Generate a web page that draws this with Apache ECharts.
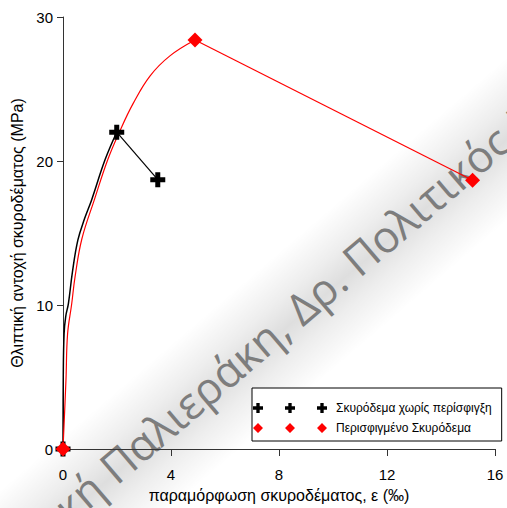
<!DOCTYPE html>
<html>
<head>
<meta charset="utf-8">
<script src="https://cdn.jsdelivr.net/npm/echarts@6/dist/echarts.min.js"></script>
<style>html,body{margin:0;padding:0;background:#fff}#c{width:507px;height:508px}</style>
</head>
<body>
<div id="c"></div>
<script>
const xTitle = 'παραμόρφωση σκυροδέματος, ε (‰)';
const yTitle = 'Θλιπτική αντοχή σκυροδέματος (MPa)';
const seriesNames = ['Σκυρόδεμα χωρίς περίσφιγξη', 'Περισφιγμένο Σκυρόδεμα'];
const watermarkLeft = 'Κυριακή ';
const watermarkRight = 'Παλιεράκη, Δρ. Πολιτικός Μηχανικός';
const xRange = [0, 16, 4];
const yRange = [0, 30, 10];

// unconfined concrete
const blackCurve = [[0,0],[0.01,5],[0.04,8],[0.1,9.2],[0.2,10.1],[0.35,12.3],[0.55,14.5],[0.8,16.0],[1.06,17.3],[1.56,20.1],[1.99,22.0]];
const blackTail = [[1.99,22.0],[3.51,18.7]];
const blackMarks = [[0,0],[1.99,22.0],[3.51,18.7]];
// confined concrete
const redCurve = [[0,0],[0.11,4.8],[0.17,8.0],[0.32,10.05],[0.45,12.0],[0.7,14.6],[1.16,17.3],[1.66,20.1],[2.11,22.1],[2.6,24.0],[3.22,25.9],[3.96,27.3],[4.89,28.4]];
const redTail = [[4.89,28.4],[15.17,18.66]];
const redMarks = [[0,0],[4.89,28.4],[15.17,18.66]];

const plusPath = 'path://M4,0H8V4H12V8H8V12H4V8H0V4H4Z';
const plus3 = 'path://M10,0H20V10H30V20H20V30H10V20H0V10H10Z M106,0H116V10H126V20H116V30H106V20H96V10H106Z M202,0H212V10H222V20H212V30H202V20H192V10H202Z';
const diam3 = 'path://M15,0L30,15L15,30L0,15Z M111,0L126,15L111,30L96,15Z M207,0L222,15L207,30L192,15Z';

const FONT = 'Liberation Sans';
const WM_ANGLE = 40.5 * Math.PI / 180;
const WM_X = 120, WM_Y = 490;
const wmStyle = {x: 0, y: 0, verticalAlign: 'bottom', font: '44px "Open Sans"', fill: '#7d7d7d'};
const chart = echarts.init(document.getElementById('c'), null, {renderer: 'svg'});
chart.setOption({
  animation: false,
  backgroundColor: '#fff',
  textStyle: {fontFamily: FONT},
  grid: {left: 63, right: 12, top: 17, bottom: 58, containLabel: false},
  xAxis: {
    type: 'value', min: xRange[0], max: xRange[1], interval: xRange[2],
    name: xTitle, nameLocation: 'middle', nameGap: 38,
    nameTextStyle: {fontSize: 16, color: '#000', fontFamily: FONT},
    axisLine: {show: true, lineStyle: {color: '#333', width: 1}},
    axisTick: {show: true, length: 7, lineStyle: {color: '#333'}},
    axisLabel: {fontSize: 15, color: '#000', margin: 18, fontFamily: FONT},
    splitLine: {show: false}
  },
  yAxis: {
    type: 'value', min: yRange[0], max: yRange[1], interval: yRange[2],
    name: yTitle, nameLocation: 'middle', nameGap: 38, nameRotate: 90,
    nameTextStyle: {fontSize: 16, color: '#000', fontFamily: FONT},
    axisLine: {show: true, lineStyle: {color: '#333', width: 1}},
    axisTick: {show: true, length: 6, lineStyle: {color: '#333'}},
    axisLabel: {fontSize: 15, color: '#000', margin: 10, fontFamily: FONT},
    splitLine: {show: false}
  },
  legend: {
    orient: 'vertical', left: 252, top: 388,
    padding: [13, 10, 6, 1], itemGap: 6,
    itemWidth: 74, itemHeight: 10,
    borderColor: '#000', borderWidth: 1, backgroundColor: '#fff',
    selectedMode: false,
    textStyle: {fontSize: 12, lineHeight: 14, color: '#000', fontFamily: FONT, padding: [0,0,0,4]},
    data: [{name: seriesNames[0], icon: plus3}, {name: seriesNames[1], icon: diam3}]
  },
  graphic: [
    {type: 'rect', x: WM_X, y: WM_Y, rotation: WM_ANGLE, z: -101, silent: true,
     shape: {x: -250, y: -78, width: 1000, height: 125},
     style: {fill: new echarts.graphic.LinearGradient(0, 0, 0, 1, [
       {offset: 0, color: 'rgba(0,0,0,0)'},
       {offset: 0.3, color: 'rgba(0,0,0,0.07)'},
       {offset: 0.5, color: 'rgba(0,0,0,0.13)'},
       {offset: 0.7, color: 'rgba(0,0,0,0.07)'},
       {offset: 1, color: 'rgba(0,0,0,0)'}])}},
    {type: 'text', x: WM_X, y: WM_Y, rotation: WM_ANGLE, z: -100, silent: true,
     style: Object.assign({text: watermarkRight, align: 'left'}, wmStyle)},
    {type: 'text', x: WM_X, y: WM_Y, rotation: WM_ANGLE, z: -100, silent: true,
     style: Object.assign({text: watermarkLeft, align: 'right'}, wmStyle)}
  ],
  series: [
    {name: 'c1', type: 'line', data: blackCurve, smooth: 0.4, showSymbol: false, symbol: 'none',
     lineStyle: {color: '#000', width: 1.5}, z: 3},
    {name: 't1', type: 'line', data: blackTail, showSymbol: false, symbol: 'none',
     lineStyle: {color: '#000', width: 1.2}, z: 3},
    {name: 'c2', type: 'line', data: redCurve, smooth: 0.4, showSymbol: false, symbol: 'none',
     lineStyle: {color: '#ff0000', width: 1.2}, z: 4},
    {name: 't2', type: 'line', data: redTail, showSymbol: false, symbol: 'none',
     lineStyle: {color: '#ff0000', width: 1.2}, z: 4},
    {name: seriesNames[0], type: 'scatter', data: blackMarks, symbol: plusPath, symbolSize: 15,
     itemStyle: {color: '#000', opacity: 1}, z: 5},
    {name: seriesNames[1], type: 'scatter', data: redMarks, symbol: 'diamond', symbolSize: 15,
     itemStyle: {color: '#ff0000', opacity: 1}, z: 6}
  ]
});
</script>
</body>
</html>
